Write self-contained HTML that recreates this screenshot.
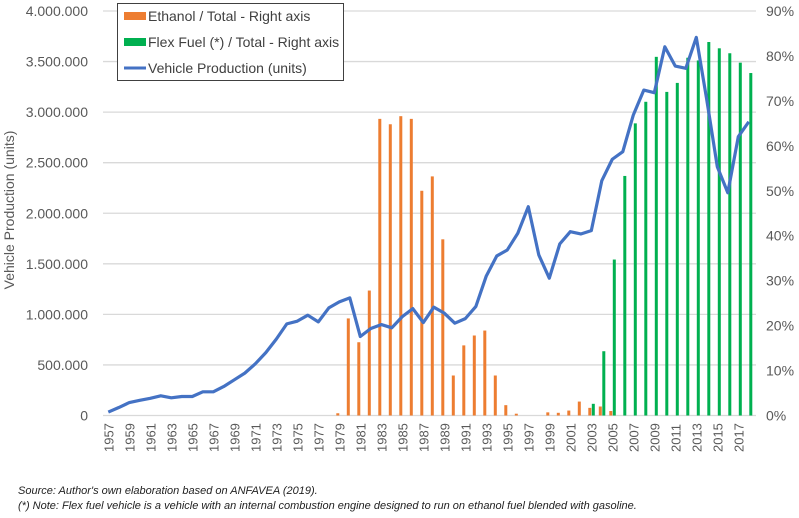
<!DOCTYPE html>
<html><head><meta charset="utf-8">
<style>
body{margin:0;background:#fff;width:799px;height:513px;overflow:hidden;font-family:"Liberation Sans",sans-serif;}
svg text{font-family:"Liberation Sans",sans-serif;}
</style></head>
<body>
<svg id="chart" width="799" height="513" viewBox="0 0 799 513" xmlns="http://www.w3.org/2000/svg"></svg>
<script>
const years = [];
for (let y = 1957; y <= 2018; y++) years.push(y);
const production = [34000,79000,128000,150000,170000,195000,175000,188000,188000,234000,234000,287000,353000,419000,511000,622000,755000,906000,933000,992000,926000,1064000,1124000,1163000,781000,860000,899000,867000,978000,1057000,919000,1071000,1012000,913000,958000,1077000,1380000,1578000,1637000,1802000,2065000,1588000,1358000,1697000,1818000,1795000,1828000,2322000,2534000,2609000,2971000,3218000,3192000,3646000,3455000,3433000,3739000,3120000,2460000,2203000,2757000,2905000];
const ethanolYears = [1979,1980,1981,1982,1983,1984,1985,1986,1987,1988,1989,1990,1991,1992,1993,1994,1995,1996,1999,2000,2001,2002,2003,2004,2005];
const ethanolPct = [0.5,21.6,16.3,27.8,66,64.8,66.6,66,50,53.2,39.2,8.9,15.6,17.8,18.9,8.9,2.3,0.4,0.7,0.6,1.1,3.1,1.7,2,1];
const flexYears = [2003,2004,2005,2006,2007,2008,2009,2010,2011,2012,2013,2014,2015,2016,2017,2018];
const flexPct = [2.6,14.3,34.7,53.3,65,69.8,79.8,72,74,79.6,79,83.1,81.7,80.6,78.5,76.2];
const leftTicks = [0,500000,1000000,1500000,2000000,2500000,3000000,3500000,4000000];
const leftTickLabels = ["0","500.000","1.000.000","1.500.000","2.000.000","2.500.000","3.000.000","3.500.000","4.000.000"];
const rightTicks = [0,10,20,30,40,50,60,70,80,90];

const NS = "http://www.w3.org/2000/svg";
const svg = document.getElementById("chart");
const X0 = 108.3, STEP = 10.5, Y0 = 415.5, YTOP = 11;
const xOf = yr => X0 + (yr - 1957) * STEP;
const yL = v => Y0 - v / 4000000 * (Y0 - YTOP);
const yR = p => Y0 - p / 90 * (Y0 - YTOP);
function mk(tag, attrs, parent) {
  const e = document.createElementNS(NS, tag);
  for (const k in attrs) e.setAttribute(k, attrs[k]);
  (parent || svg).appendChild(e);
  return e;
}
// gridlines & left ticks
leftTicks.forEach((v, i) => {
  const g = mk("line", {x1: 103, x2: 756, y1: yL(v), y2: yL(v), stroke: "#d9d9d9", "stroke-width": 1.3});
  
  
  const t = mk("text", {x: 88, y: yL(v) + 5, "text-anchor": "end", "font-size": 14, fill: "#595959"});
  t.textContent = leftTickLabels[i];
  
  
});
rightTicks.forEach(p => {
  const t = mk("text", {x: 766, y: yR(p) + 5, "font-size": 14, fill: "#595959"});
  t.textContent = p + "%";
  
  
});
// x labels
years.forEach((yr, i) => {
  if (i % 2) return;
  const x = xOf(yr) + 5;
  const t = mk("text", {x: x, y: 452, transform: `rotate(-90 ${x} 452)`, "font-size": 13, fill: "#595959"});
  t.textContent = yr;
  
  
});
// bars
ethanolYears.forEach((yr, i) => {
  const h = Y0 - yR(ethanolPct[i]);
  const b = mk("rect", {x: xOf(yr) - 3, y: yR(ethanolPct[i]), width: 3, height: h, fill: "#ed7d31"});
  
  
});
flexYears.forEach((yr, i) => {
  const h = Y0 - yR(flexPct[i]);
  const b = mk("rect", {x: xOf(yr) + 0.5, y: yR(flexPct[i]), width: 3, height: h, fill: "#00b050"});
  
  
});
// line
const pts = years.map((yr, i) => xOf(yr) + "," + yL(production[i])).join(" ");
const ln = mk("polyline", {points: pts, fill: "none", stroke: "#4472c4", "stroke-width": 3.2, "stroke-linejoin": "round"});


// y title
const yt = mk("text", {x: 14, y: 210, transform: "rotate(-90 14 210)", "text-anchor": "middle", "font-size": 14, fill: "#595959"});
yt.textContent = "Vehicle Production (units)";


// legend
const lg = mk("g", {});


mk("rect", {x: 117.5, y: 3.5, width: 226, height: 77, fill: "#fff", stroke: "#404040", "stroke-width": 1}, lg);
const entries = [["Ethanol / Total - Right axis", "#ed7d31", "bar"], ["Flex Fuel (*) / Total - Right axis", "#00b050", "bar"], ["Vehicle Production (units)", "#4472c4", "line"]];
entries.forEach((e, i) => {
  const cy = 16 + i * 26;
  if (e[2] === "bar") mk("rect", {x: 124, y: cy - 4, width: 22, height: 8, fill: e[1]}, lg);
  else mk("line", {x1: 124, x2: 146, y1: cy, y2: cy, stroke: e[1], "stroke-width": 3}, lg);
  const t = mk("text", {x: 148, y: cy + 5, "font-size": 14, fill: "#404040"}, lg);
  t.textContent = e[0];
  
  
});
// notes
const n1 = mk("text", {x: 18, y: 494, "font-size": 11, "font-style": "italic", fill: "#222"});
n1.textContent = "Source: Author's own elaboration based on ANFAVEA (2019).";


const n2 = mk("text", {x: 18, y: 509, "font-size": 11, "font-style": "italic", fill: "#222"});
n2.textContent = "(*) Note: Flex fuel vehicle is a vehicle with an internal combustion engine designed to run on ethanol fuel blended with gasoline.";


</script>
</body></html>
